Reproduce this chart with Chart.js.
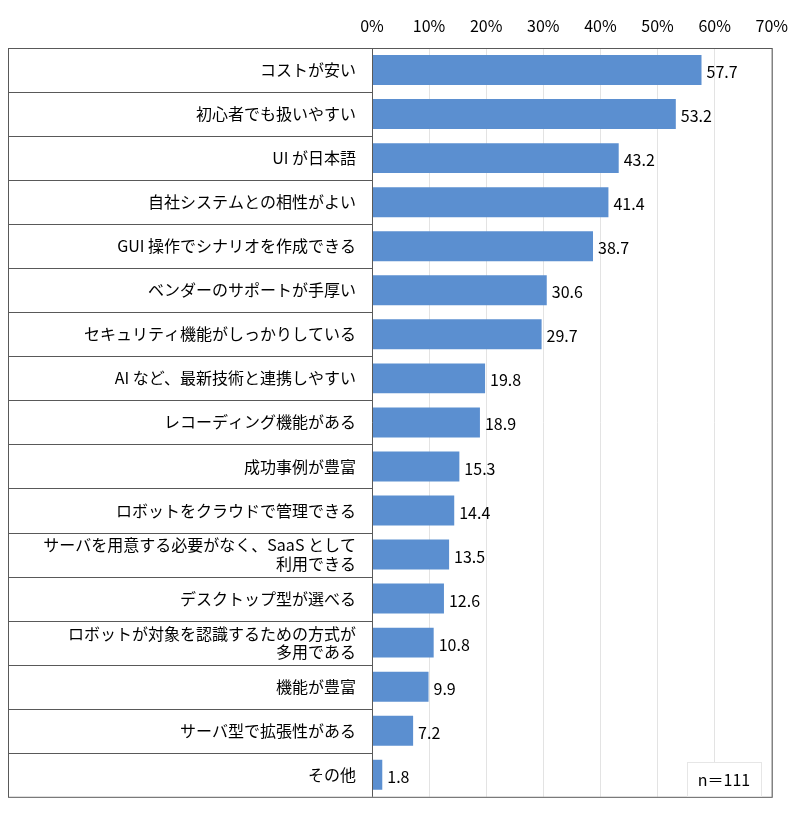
<!DOCTYPE html>
<html>
<head>
<meta charset="utf-8">
<script src="https://cdn.jsdelivr.net/npm/chart.js@4"></script>
<style>
  body { margin: 0; background: #fff; }
  #wrap { width: 800px; height: 814px; }
</style>
</head>
<body>
<div id="wrap"><canvas id="myChart"></canvas></div>
<script>
const categories = [
  "コストが安い", "初心者でも扱いやすい", "UI が日本語", "自社システムとの相性がよい",
  "GUI 操作でシナリオを作成できる", "ベンダーのサポートが手厚い", "セキュリティ機能がしっかりしている",
  "AI など、最新技術と連携しやすい", "レコーディング機能がある", "成功事例が豊富",
  "ロボットをクラウドで管理できる", ["サーバを用意する必要がなく、SaaS として", "利用できる"],
  "デスクトップ型が選べる", ["ロボットが対象を認識するための方式が", "多用である"],
  "機能が豊富", "サーバ型で拡張性がある", "その他"
];
const values = [57.7, 53.2, 43.2, 41.4, 38.7, 30.6, 29.7, 19.8, 18.9, 15.3, 14.4, 13.5, 12.6, 10.8, 9.9, 7.2, 1.8];
const tickValues = [0, 10, 20, 30, 40, 50, 60, 70];
const sampleLabel = "n＝111";

const FONT = "'Noto Sans CJK JP', 'Noto Sans', sans-serif";

// Row separators, outer box, value labels and the n box
const decor = {
  id: "decor",
  afterDatasetsDraw(chart) {
    const ctx = chart.ctx;
    const area = chart.chartArea;
    const y = chart.scales.y;
    const left = 8;
    ctx.save();
    ctx.strokeStyle = "#595959";
    ctx.lineWidth = 1;
    for (let i = 0; i < categories.length - 1; i++) {
      const yy = Math.round((y.getPixelForValue(i) + y.getPixelForValue(i + 1)) / 2) + 0.5;
      ctx.beginPath();
      ctx.moveTo(left, yy);
      ctx.lineTo(area.left, yy);
      ctx.stroke();
    }
    ctx.strokeRect(left + 0.5, area.top + 0.5, area.right - left, area.bottom - area.top);
    ctx.beginPath();
    ctx.moveTo(area.left + 0.5, area.top);
    ctx.lineTo(area.left + 0.5, area.bottom);
    ctx.stroke();

    ctx.fillStyle = "#000";
    ctx.font = "16px " + FONT;
    ctx.textBaseline = "middle";
    const meta = chart.getDatasetMeta(0);
    meta.data.forEach((bar, i) => {
      ctx.fillText(values[i].toFixed(1), bar.x + 5, bar.y + 2);
    });

    ctx.strokeStyle = "#e6e6e6";
    ctx.fillStyle = "#fff";
    ctx.fillRect(687, 762, 74, 34);
    ctx.strokeRect(687.5, 762.5, 74, 34);
    ctx.fillStyle = "#000";
    ctx.textAlign = "center";
    ctx.fillText(sampleLabel, 724, 780);
    ctx.restore();
  }
};

new Chart(document.getElementById("myChart"), {
  type: "bar",
  data: {
    labels: categories,
    datasets: [{
      data: values,
      backgroundColor: "#5b8fd0",
      categoryPercentage: 1,
      barPercentage: 0.68
    }]
  },
  options: {
    indexAxis: "y",
    responsive: true,
    maintainAspectRatio: false,
    animation: false,
    layout: { padding: { left: 8, right: 20, top: 0, bottom: 14 } },
    plugins: { legend: { display: false }, tooltip: { enabled: false } },
    scales: {
      x: {
        position: "top",
        min: 0,
        max: 70,
        afterBuildTicks: (s) => { s.ticks = tickValues.map(v => ({ value: v })); },
        afterFit: (s) => { s.height = 48; },
        grid: { color: "#e3e3e3", drawTicks: false },
        border: { display: false },
        ticks: {
          padding: 12,
          color: "#000",
          font: { family: FONT, size: 16 },
          callback: (v) => v + "%"
        }
      },
      y: {
        afterFit: (s) => { s.width = 364; },
        grid: { display: false },
        border: { display: false },
        ticks: {
          padding: 8,
          color: "#000",
          font: { family: FONT, size: 16, lineHeight: 1.15 }
        }
      }
    }
  },
  plugins: [decor]
});
</script>
</body>
</html>
